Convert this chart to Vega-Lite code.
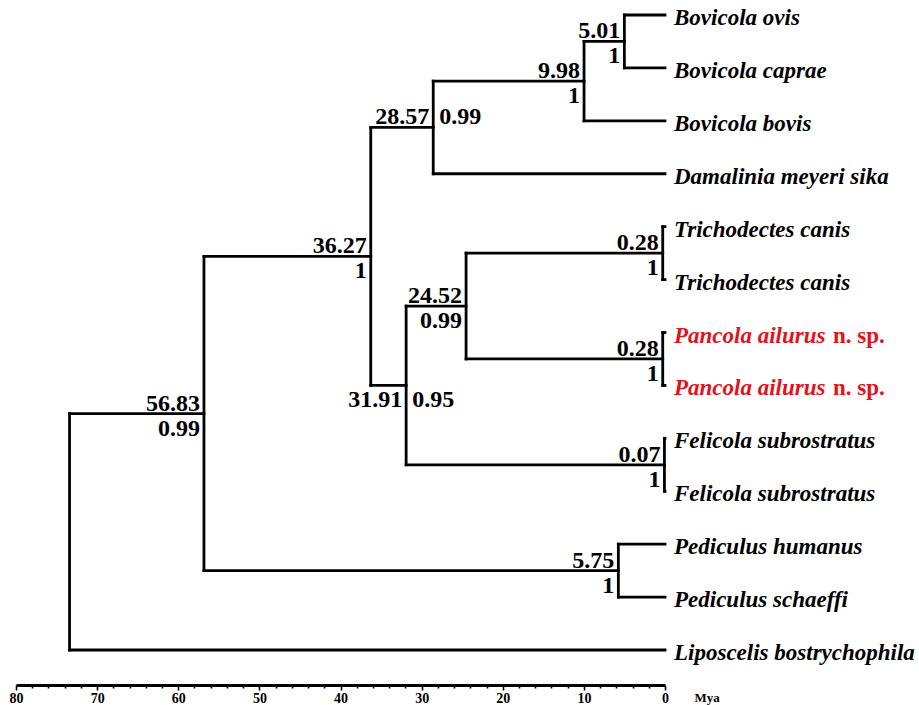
{
  "$schema": "https://vega.github.io/schema/vega-lite/v6.json",
  "autosize": {"type": "none"},
  "padding": {"left": 16, "top": 10, "right": 254, "bottom": 20},
  "width": 649,
  "height": 675,
  "background": "white",
  "config": {"view": {"stroke": null}},
  "datasets": {
    "edges": [
      {"t": 5.01, "t2": 0, "y1": 0, "y2": 0},
      {"t": 5.01, "t2": 0, "y1": 1, "y2": 1},
      {"t": 9.98, "t2": 5.01, "y1": 0.5, "y2": 0.5},
      {"t": 9.98, "t2": 0, "y1": 2, "y2": 2},
      {"t": 28.57, "t2": 9.98, "y1": 1.25, "y2": 1.25},
      {"t": 28.57, "t2": 0, "y1": 3, "y2": 3},
      {"t": 36.27, "t2": 28.57, "y1": 2.125, "y2": 2.125},
      {"t": 0.28, "t2": 0, "y1": 4, "y2": 4},
      {"t": 0.28, "t2": 0, "y1": 5, "y2": 5},
      {"t": 24.52, "t2": 0.28, "y1": 4.5, "y2": 4.5},
      {"t": 0.28, "t2": 0, "y1": 6, "y2": 6},
      {"t": 0.28, "t2": 0, "y1": 7, "y2": 7},
      {"t": 24.52, "t2": 0.28, "y1": 6.5, "y2": 6.5},
      {"t": 31.91, "t2": 24.52, "y1": 5.5, "y2": 5.5},
      {"t": 0.07, "t2": 0, "y1": 8, "y2": 8},
      {"t": 0.07, "t2": 0, "y1": 9, "y2": 9},
      {"t": 31.91, "t2": 0.07, "y1": 8.5, "y2": 8.5},
      {"t": 36.27, "t2": 31.91, "y1": 7, "y2": 7},
      {"t": 56.83, "t2": 36.27, "y1": 4.5625, "y2": 4.5625},
      {"t": 5.75, "t2": 0, "y1": 10, "y2": 10},
      {"t": 5.75, "t2": 0, "y1": 11, "y2": 11},
      {"t": 56.83, "t2": 5.75, "y1": 10.5, "y2": 10.5},
      {"t": 73.4, "t2": 56.83, "y1": 7.53125, "y2": 7.53125},
      {"t": 73.4, "t2": 0, "y1": 12, "y2": 12},
      {"t": 5.01, "t2": 5.01, "y1": 0, "y2": 1},
      {"t": 9.98, "t2": 9.98, "y1": 0.5, "y2": 2},
      {"t": 28.57, "t2": 28.57, "y1": 1.25, "y2": 3},
      {"t": 0.28, "t2": 0.28, "y1": 4, "y2": 5},
      {"t": 0.28, "t2": 0.28, "y1": 6, "y2": 7},
      {"t": 24.52, "t2": 24.52, "y1": 4.5, "y2": 6.5},
      {"t": 0.07, "t2": 0.07, "y1": 8, "y2": 9},
      {"t": 31.91, "t2": 31.91, "y1": 5.5, "y2": 8.5},
      {"t": 36.27, "t2": 36.27, "y1": 2.125, "y2": 7},
      {"t": 5.75, "t2": 5.75, "y1": 10, "y2": 11},
      {"t": 56.83, "t2": 56.83, "y1": 4.5625, "y2": 10.5},
      {"t": 73.4, "t2": 73.4, "y1": 7.53125, "y2": 12}
    ],
    "tips": [
      {"name": "Bovicola ovis", "note": "", "grp": "known", "t": 0, "y": 0},
      {"name": "Bovicola caprae", "note": "", "grp": "known", "t": 0, "y": 1},
      {"name": "Bovicola bovis", "note": "", "grp": "known", "t": 0, "y": 2},
      {"name": "Damalinia meyeri sika", "note": "", "grp": "known", "t": 0, "y": 3},
      {"name": "Trichodectes canis", "note": "", "grp": "known", "t": 0, "y": 4},
      {"name": "Trichodectes canis", "note": "", "grp": "known", "t": 0, "y": 5},
      {"name": "Pancola ailurus", "note": "n. sp.", "grp": "new", "t": 0, "y": 6},
      {"name": "Pancola ailurus", "note": "n. sp.", "grp": "new", "t": 0, "y": 7},
      {"name": "Felicola subrostratus", "note": "", "grp": "known", "t": 0, "y": 8},
      {"name": "Felicola subrostratus", "note": "", "grp": "known", "t": 0, "y": 9},
      {"name": "Pediculus humanus", "note": "", "grp": "known", "t": 0, "y": 10},
      {"name": "Pediculus schaeffi", "note": "", "grp": "known", "t": 0, "y": 11},
      {"name": "Liposcelis bostrychophila", "note": "", "grp": "known", "t": 0, "y": 12}
    ],
    "nodes": [
      {"label": "5.01", "t": 5.01, "y": 0.5, "pos": "AL"},
      {"label": "1", "t": 5.01, "y": 0.5, "pos": "BL"},
      {"label": "9.98", "t": 9.98, "y": 1.25, "pos": "AL"},
      {"label": "1", "t": 9.98, "y": 1.25, "pos": "BL"},
      {"label": "28.57", "t": 28.57, "y": 2.125, "pos": "AL"},
      {"label": "0.99", "t": 28.57, "y": 2.125, "pos": "AR"},
      {"label": "36.27", "t": 36.27, "y": 4.5625, "pos": "AL"},
      {"label": "1", "t": 36.27, "y": 4.5625, "pos": "BL"},
      {"label": "0.28", "t": 0.28, "y": 4.5, "pos": "AL"},
      {"label": "1", "t": 0.28, "y": 4.5, "pos": "BL"},
      {"label": "24.52", "t": 24.52, "y": 5.5, "pos": "AL"},
      {"label": "0.99", "t": 24.52, "y": 5.5, "pos": "BL"},
      {"label": "0.28", "t": 0.28, "y": 6.5, "pos": "AL"},
      {"label": "1", "t": 0.28, "y": 6.5, "pos": "BL"},
      {"label": "31.91", "t": 31.91, "y": 7, "pos": "BL"},
      {"label": "0.95", "t": 31.91, "y": 7, "pos": "BR"},
      {"label": "0.07", "t": 0.07, "y": 8.5, "pos": "AL"},
      {"label": "1", "t": 0.07, "y": 8.5, "pos": "BL"},
      {"label": "5.75", "t": 5.75, "y": 10.5, "pos": "AL"},
      {"label": "1", "t": 5.75, "y": 10.5, "pos": "BL"},
      {"label": "56.83", "t": 56.83, "y": 7.53125, "pos": "AL"},
      {"label": "0.99", "t": 56.83, "y": 7.53125, "pos": "BL"}
    ]
  },
  "layer": [
    {
      "data": {"name": "edges"},
      "mark": {"type": "rule", "color": "black", "strokeWidth": 2.8, "strokeCap": "square"},
      "encoding": {
        "x": {
          "field": "t", "type": "quantitative",
          "scale": {"domain": [0, 80], "reverse": true, "nice": false, "zero": false},
          "axis": {
            "title": "Mya",
            "values": [0, 2, 4, 6, 8, 10, 12, 14, 16, 18, 20, 22, 24, 26, 28, 30, 32, 34, 36, 38, 40, 42, 44, 46, 48, 50, 52, 54, 56, 58, 60, 62, 64, 66, 68, 70, 72, 74, 76, 78, 80],
            "tickCount": 100,
            "labelExpr": "datum.value % 10 === 0 ? datum.label : ''",
            "grid": false,
            "domainColor": "black",
            "domainWidth": 3,
            "tickColor": "black",
            "tickWidth": 1.6,
            "tickSize": {"condition": {"test": "datum.value % 10 === 0", "value": 5}, "value": 3},
            "labelFont": "Liberation Serif",
            "labelFontWeight": "bold",
            "labelFontSize": 14,
            "labelColor": "black",
            "labelPadding": 1,
            "labelFlush": false,
            "labelOverlap": false,
            "titleFont": "Liberation Serif",
            "titleFontWeight": "bold",
            "titleFontSize": 13,
            "titleColor": "black",
            "titleAngle": 0,
            "titleAlign": "left",
            "titleBaseline": "alphabetic",
            "titleX": 678,
            "titleY": 16
          }
        },
        "x2": {"field": "t2"},
        "y": {
          "field": "y1", "type": "quantitative",
          "scale": {"domain": [-0.0945, 12.661], "reverse": true, "nice": false, "zero": false},
          "axis": null
        },
        "y2": {"field": "y2"}
      }
    },
    {
      "data": {"name": "tips"},
      "mark": {"type": "text", "align": "left", "baseline": "middle", "dx": 9, "dy": 3, "font": "Liberation Serif", "fontSize": 23, "fontWeight": "bold", "fontStyle": "italic"},
      "encoding": {
        "x": {"field": "t", "type": "quantitative"},
        "y": {"field": "y", "type": "quantitative", "axis": null},
        "text": {"field": "name"},
        "color": {"field": "grp", "type": "nominal", "scale": {"domain": ["known", "new"], "range": ["black", "#e3121b"]}, "legend": null}
      }
    },
    {
      "data": {"name": "tips"},
      "transform": [{"filter": "datum.note !== ''"}],
      "mark": {"type": "text", "align": "left", "baseline": "middle", "dx": 168, "dy": 3, "font": "Liberation Serif", "fontSize": 23, "fontWeight": "bold"},
      "encoding": {
        "x": {"field": "t", "type": "quantitative"},
        "y": {"field": "y", "type": "quantitative", "axis": null},
        "text": {"field": "note"},
        "color": {"field": "grp", "type": "nominal", "legend": null}
      }
    },
    {
      "data": {"name": "nodes"},
      "transform": [{"filter": "datum.pos === 'AL'"}],
      "mark": {"type": "text", "align": "right", "baseline": "alphabetic", "dx": -4, "dy": -3, "font": "Liberation Serif", "fontSize": 24, "fontWeight": "bold", "color": "black"},
      "encoding": {
        "x": {"field": "t", "type": "quantitative"},
        "y": {"field": "y", "type": "quantitative", "axis": null},
        "text": {"field": "label"}
      }
    },
    {
      "data": {"name": "nodes"},
      "transform": [{"filter": "datum.pos === 'BL'"}],
      "mark": {"type": "text", "align": "right", "baseline": "top", "dx": -4, "dy": 3, "font": "Liberation Serif", "fontSize": 24, "fontWeight": "bold", "color": "black"},
      "encoding": {
        "x": {"field": "t", "type": "quantitative"},
        "y": {"field": "y", "type": "quantitative", "axis": null},
        "text": {"field": "label"}
      }
    },
    {
      "data": {"name": "nodes"},
      "transform": [{"filter": "datum.pos === 'AR'"}],
      "mark": {"type": "text", "align": "left", "baseline": "alphabetic", "dx": 6, "dy": -3, "font": "Liberation Serif", "fontSize": 24, "fontWeight": "bold", "color": "black"},
      "encoding": {
        "x": {"field": "t", "type": "quantitative"},
        "y": {"field": "y", "type": "quantitative", "axis": null},
        "text": {"field": "label"}
      }
    },
    {
      "data": {"name": "nodes"},
      "transform": [{"filter": "datum.pos === 'BR'"}],
      "mark": {"type": "text", "align": "left", "baseline": "top", "dx": 6, "dy": 3, "font": "Liberation Serif", "fontSize": 24, "fontWeight": "bold", "color": "black"},
      "encoding": {
        "x": {"field": "t", "type": "quantitative"},
        "y": {"field": "y", "type": "quantitative", "axis": null},
        "text": {"field": "label"}
      }
    }
  ]
}
